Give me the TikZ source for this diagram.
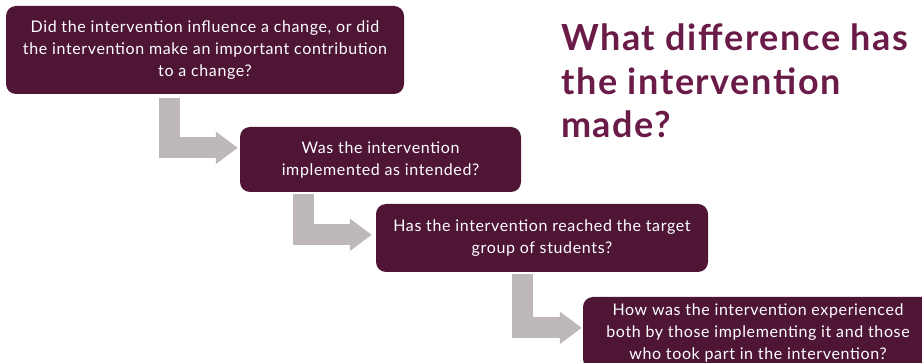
\documentclass[tikz,border=0pt]{standalone}
\usepackage{fontspec}
\setmainfont{Lato}
\newfontfamily\qfont[LetterSpace=4]{Lato}
\newfontfamily\headfont[LetterSpace=4.5]{Lato}
\usetikzlibrary{arrows.meta,calc}
\definecolor{boxwine}{HTML}{4E1535}
\definecolor{titlewine}{HTML}{6A1B47}
\definecolor{flowgray}{HTML}{BFB8BA}
\begin{document}
\begin{tikzpicture}[x=1pt,y=-1pt,
  qbox/.style={fill=boxwine,rounded corners=10pt,text=white,align=center,
    inner sep=0pt,font=\qfont\fontsize{16}{22}\selectfont},
  flow/.style={draw=flowgray,line width=21pt,line join=miter,
    -{Triangle[length=22pt,width=31pt]}}]
\useasboundingbox (0,0) rectangle (922,363);
\fill[white] (0,0) rectangle (922,363);

% question boxes
\node[qbox,minimum width=398pt,minimum height=88pt] (b1) at (205,50)
  {Did the intervention influence a change, or did\\
   the intervention make an important contribution\\
   to a change?};
\node[qbox,minimum width=281pt,minimum height=65pt] (b2) at (380.5,159.5)
  {Was the intervention\\ implemented as intended?};
\node[qbox,minimum width=332pt,minimum height=68pt] (b3) at (542,238)
  {Has the intervention reached the target\\ group of students?};
\node[qbox,minimum width=350pt,minimum height=72pt] (b4) at (758,333)
  {How was the intervention experienced\\
   both by those implementing it and those\\
   who took part in the intervention?};

% title
\node[anchor=north west,text=titlewine,align=left,inner sep=0pt,
  font=\headfont\fontsize{36}{43.5}\bfseries\selectfont] (title) at (561,24)
  {What difference has\\ the intervention\\ made?};

% bent block arrows between the boxes
\coordinate (a1s) at (169.5,98);
\coordinate (a1e) at ($(b2.north west)+(-2,21)$);
\draw[flow] (a1s) |- (a1e);
\coordinate (a2s) at (303,194);
\coordinate (a2e) at ($(b3.north west)+(-4,31)$);
\draw[flow] (a2s) |- (a2e);
\coordinate (a3s) at (522,274);
\coordinate (a3e) at ($(b4.north west)+(-1,31)$);
\draw[flow] (a3s) |- (a3e);
\end{tikzpicture}
\end{document}
